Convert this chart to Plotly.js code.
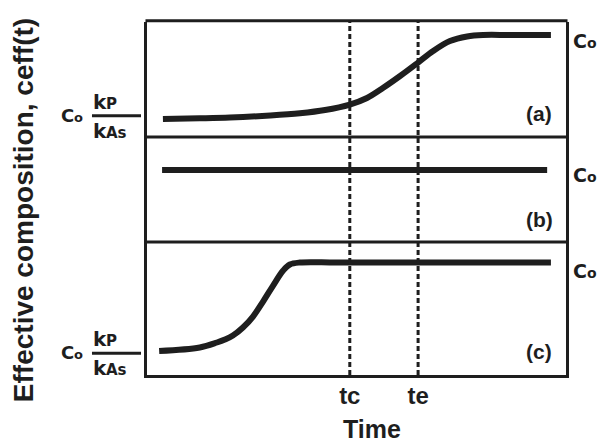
<!DOCTYPE html>
<html>
<head>
<meta charset="utf-8">
<script src="https://cdn.plot.ly/plotly-3.0.1.min.js"></script>
<style>html,body{margin:0;padding:0;background:#fff;}#chart{width:599px;height:443px;}</style>
</head>
<body>
<div id="chart"></div>
<script>
// ---- data (relative composition: Co = 1, Co*kP/kAs = 0.25) ----
var timeA = [3.8, 12.6, 19.8, 29.4, 36.5, 42.5, 48.4, 52.5, 56.3, 60.4, 64.7, 68.3, 72.3, 76.4, 80.2, 86.6, 96.4];
var compA = [0.25, 0.256, 0.263, 0.281, 0.301, 0.330, 0.379, 0.438, 0.527, 0.634, 0.754, 0.857, 0.946, 0.987, 1.0, 1.0, 1.0];
var timeB = [3.6, 95.5];
var compB = [1.0, 1.0];
var timeC = [2.9, 12.6, 16.7, 18.6, 20.5, 22.9, 25.3, 27.7, 30.1, 32.5, 34.1, 36.5, 45.0, 60.0, 80.0, 96.4];
var compC = [0.25, 0.280, 0.322, 0.347, 0.381, 0.449, 0.542, 0.669, 0.805, 0.932, 0.983, 1.0, 1.0, 1.0, 1.0, 1.0];
var markTimes = [48.4, 64.7];
var markLabels = ['tc', 'te'];
var panelLabels = ['(a)', '(b)', '(c)'];
var yTitle = 'Effective composition, ceff(t)';
var xTitle = 'Time';

var ink = '#1e1e1e';
var FONT = 'Liberation Sans, Arial, Helvetica, sans-serif';
var HEAVY = 'DejaVu Sans, Liberation Sans, Arial, sans-serif';

function curve(x, y, ya) {
  return {x: x, y: y, yaxis: ya, type: 'scatter', mode: 'lines',
          line: {color: ink, width: 6, shape: 'spline', smoothing: 1},
          hoverinfo: 'skip', showlegend: false};
}
var traces = [curve(timeA, compA, 'y'), curve(timeB, compB, 'y2'), curve(timeC, compC, 'y3')];

function yax(dom, rng) {
  return {domain: dom, range: rng, showline: true, mirror: true, linewidth: 3, linecolor: ink,
          showgrid: false, zeroline: false, showticklabels: false, ticks: '', anchor: 'x', fixedrange: true};
}

var shapes = markTimes.map(function (t) {
  return {type: 'line', xref: 'x', yref: 'paper', x0: t, x1: t, y0: 0, y1: 1,
          line: {color: ink, width: 3, dash: '5px,3px'}};
});
// top edge and panel separators
[1.0036, 0.6742, 0.3768].forEach(function (yy) {
  shapes.push({type: 'line', xref: 'paper', yref: 'paper', x0: -0.0036, x1: 1.0036, y0: yy, y1: yy,
               line: {color: ink, width: 3}});
});
// fraction bars of the left labels
[0.7346, 0.0615].forEach(function (yy) {
  shapes.push({type: 'line', xref: 'paper', yref: 'paper', x0: -0.1313, x1: -0.0143, y0: yy, y1: yy,
               line: {color: ink, width: 3}});
});

function f(sz, fam) { return {family: fam || FONT, color: ink, size: sz, weight: 'bold'}; }
function ann(text, x, y, sz, xa, extra, fam) {
  var a = {text: text, xref: 'paper', yref: 'paper', x: x, y: y, showarrow: false,
           xanchor: xa || 'center', yanchor: 'middle', font: f(sz, fam)};
  if (extra) for (var k in extra) a[k] = extra[k];
  return a;
}
function h(text, x, y, sz) { return ann(text, x, y, sz, 'left', null, HEAVY); }

var annotations = [
  ann(yTitle, -0.296, 0.467, 28, 'center', {textangle: -90}),
  ann(xTitle, 0.538, -0.1516, 25, 'center', {borderpad: 0}),
  // right "Co"
  h('C', 1.0119, 0.9450, 19), h('o', 1.0453, 0.9411, 14),
  h('C', 1.0119, 0.5654, 19), h('o', 1.0453, 0.5615, 14),
  h('C', 1.0119, 0.2935, 19), h('o', 1.0453, 0.2895, 14),
  // left "Co kP/kAs" (panel a)
  h('C', -0.2100, 0.7343, 18), h('o', -0.1785, 0.7295, 13),
  h('k', -0.1337, 0.7731, 20), h('P', -0.1019, 0.7683, 15),
  h('k', -0.1337, 0.6910, 20), h('As', -0.1019, 0.6861, 15),
  // left "Co kP/kAs" (panel c)
  h('C', -0.2100, 0.0629, 18), h('o', -0.1785, 0.0581, 13),
  h('k', -0.1337, 0.1017, 20), h('P', -0.1019, 0.0969, 15),
  h('k', -0.1337, 0.0195, 20), h('As', -0.1019, 0.0147, 15),
  // panel tags
  ann(panelLabels[0], 0.9356, 0.742, 21),
  ann(panelLabels[1], 0.9356, 0.4419, 21),
  ann(panelLabels[2], 0.9356, 0.0652, 21)
];

var layout = {
  width: 599, height: 443,
  margin: {l: 147, r: 33, t: 22, b: 68, pad: 0},
  paper_bgcolor: '#fff', plot_bgcolor: '#fff',
  font: {family: FONT, color: ink},
  showlegend: false,
  xaxis: {range: [0, 100], anchor: 'y3', showline: true, mirror: false, linewidth: 3, linecolor: ink,
          showgrid: false, zeroline: false, ticks: '', tickvals: markTimes, ticktext: markLabels,
          tickfont: f(24), ticklabelstandoff: -3, fixedrange: true},
  yaxis: yax([0.6742, 1], [0.0893, 1.116]),
  yaxis2: yax([0.3768, 0.6742], [0.357, 1.295]),
  yaxis3: yax([0, 0.3768], [0.0466, 1.174]),
  shapes: shapes,
  annotations: annotations
};

Plotly.newPlot('chart', traces, layout, {staticPlot: true, displayModeBar: false});
</script>
</body>
</html>
